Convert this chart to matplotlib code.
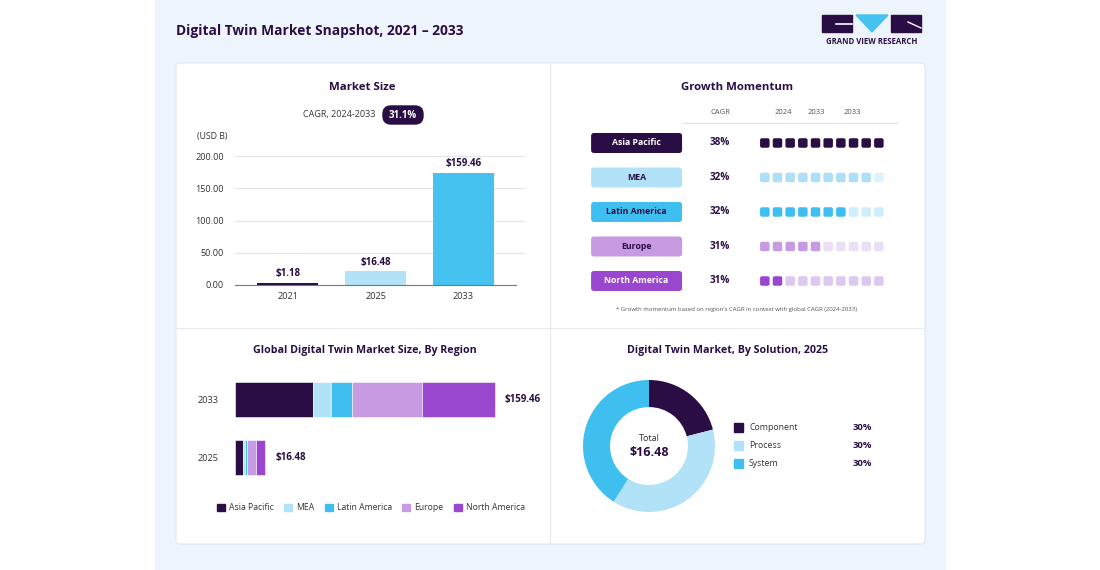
import matplotlib
matplotlib.use('Agg')
import matplotlib.pyplot as plt
from matplotlib.patches import FancyBboxPatch, Rectangle, Polygon, Patch

plt.rcParams['font.family'] = ['Open Sans', 'DejaVu Sans']

years = ['2021', '2025', '2033']
market_heights = [3.5, 21.0, 174.0]          # bar heights as drawn
market_labels = ['$1.18', '$16.48', '$159.46']
market_ticks = [0, 50, 100, 150, 200]

regions = ['Asia Pacific', 'MEA', 'Latin America', 'Europe', 'North America']
region_cagr = ['38%', '32%', '32%', '31%', '31%']
momentum_filled = [10, 9, 7, 5, 2]
momentum_years = ['2024', '2033', '2033']

stack_years = ['2025', '2033']
region_2025 = [4.6, 1.3, 1.5, 5.6, 5.6]
region_2033 = [47.8, 11.0, 12.9, 42.9, 44.8]
stack_labels = ['$16.48', '$159.46']

solutions = ['Component', 'Process', 'System']
solution_share = [21, 38, 41]
solution_labels = ['30%', '30%', '30%']

# Colours
DARK = '#2B0D45'
region_colors = ['#2B0D45', '#B2E2F7', '#3FBFEF', '#C89AE2', '#9A47D0']
faded_colors = ['#2B0D45', '#DDF2FB', '#CFEEFB', '#EADFF5', '#DDC8F1']
label_text_colors = ['white', DARK, DARK, DARK, 'white']
solution_colors = ['#2B0D45', '#B2E2F7', '#3FBFEF']
TXT = '#333333'

fig = plt.figure(figsize=(11, 5.7), dpi=100, facecolor='white')


def fig_rect(x0, y0, x1, y1):
    # pixel box (top-left origin) -> figure fraction
    return [x0 / 1100, 1 - y1 / 570, (x1 - x0) / 1100, (y1 - y0) / 570]


# Background / layout layer in pixel coordinates
bg = fig.add_axes([0, 0, 1, 1], zorder=0)
bg.set_xlim(0, 1100)
bg.set_ylim(570, 0)
bg.axis('off')
bg.add_patch(Rectangle((155, 0), 790, 570, color='#EEF4FB'))
bg.add_patch(FancyBboxPatch((176, 63), 749, 481, boxstyle='round,pad=0,rounding_size=4',
                            facecolor='white', edgecolor='#E1E7EF', lw=0.8))
bg.plot([550, 550], [63, 544], color='#E6EAF0', lw=0.8)
bg.plot([176, 925], [328, 328], color='#E6EAF0', lw=0.8)

bg.text(176, 31, 'Digital Twin Market Snapshot, 2021 \u2013 2033', fontsize=9.9,
        fontweight='bold', color=DARK, va='center', ha='left')

# logo
bg.add_patch(Rectangle((822, 15), 30, 17, color=DARK))
bg.plot([836, 852], [24, 24], color='white', lw=1.2)
bg.add_patch(Polygon([(856, 15), (888, 15), (872, 32)], closed=True, color='#45C2F0'))
bg.add_patch(Rectangle((891, 15), 30, 17, color=DARK))
bg.plot([908, 921], [22, 28], color='white', lw=1.0)
bg.text(871.5, 42, 'GRAND VIEW RESEARCH', fontsize=5.6, fontweight='bold', color=DARK,
        ha='center', va='center')

# panel titles
bg.text(362, 87, 'Market Size', fontsize=8.2, fontweight='bold', color=DARK, ha='center', va='center')
bg.text(737, 87, 'Growth Momentum', fontsize=8.2, fontweight='bold', color=DARK, ha='center', va='center')
bg.text(365, 350, 'Global Digital Twin Market Size, By Region', fontsize=7.7, fontweight='bold',
        color=DARK, ha='center', va='center')
bg.text(728, 350, 'Digital Twin Market, By Solution, 2025', fontsize=7.7, fontweight='bold',
        color=DARK, ha='center', va='center')

# CAGR badge
bg.text(375, 115, 'CAGR, 2024-2033', fontsize=6.5, color=TXT, ha='right', va='center')
bg.add_patch(FancyBboxPatch((383, 106), 40, 18, boxstyle='round,pad=0,rounding_size=8',
                            color=DARK))
bg.text(403, 115, '31.1%', fontsize=7, fontweight='bold', color='white', ha='center', va='center')
bg.text(197, 137, '(USD B)', fontsize=6.3, color=TXT, ha='left', va='center')

bg.text(737, 309, "* Growth momentum based on region's CAGR in context with global CAGR (2024-2033)",
        fontsize=4.3, color='#555555', ha='center', va='center')

# ---- Market size bars ----
ax1 = fig.add_axes(fig_rect(235, 156, 525, 285), zorder=1)
ax1.patch.set_alpha(0)
xs = range(len(years))
ax1.bar(xs, market_heights, width=0.69, color=[DARK, '#B2E2F7', '#45C2F0'], zorder=2)
for x, h, lab in zip(xs, market_heights, market_labels):
    ax1.text(x, h + 6, lab, ha='center', va='bottom', fontsize=7, fontweight='bold', color=DARK,
             clip_on=False)
ax1.set_xlim(-0.6, 2.7)
ax1.set_ylim(0, 200)
ax1.set_yticks(market_ticks)
ax1.set_yticklabels(['%.2f' % t for t in market_ticks])
ax1.set_xticks(list(xs))
ax1.set_xticklabels(years)
ax1.tick_params(length=0, labelsize=6.6, labelcolor=TXT)
ax1.tick_params(axis='y', pad=8)
ax1.tick_params(axis='x', pad=5)
ax1.grid(axis='y', color='#E3E3E3', lw=0.8, zorder=0)
for s in ['top', 'right', 'left']:
    ax1.spines[s].set_visible(False)
ax1.spines['bottom'].set_color('#777777')
ax1.spines['bottom'].set_bounds(-0.6, 2.6)

# ---- Growth momentum grid ----
ax2 = fig.add_axes(fig_rect(585, 100, 898, 300), zorder=1)
ax2.set_xlim(-14.19, 10.51)
ax2.set_ylim(4.551, -1.246)
ax2.axis('off')
asp = (5.797 / 200) / (24.70 / 313)   # y-units per px / x-units per px
sq_w = 0.75
sq_h = sq_w * asp
for r, (name, cagr, n) in enumerate(zip(regions, region_cagr, momentum_filled)):
    for i in range(10):
        col = region_colors[r] if i < n else faded_colors[r]
        if r == 1 and i < n:
            col = '#ADDFF6'
        ax2.add_patch(FancyBboxPatch((i - sq_w / 2, r - sq_h / 2), sq_w, sq_h,
                                     boxstyle='round,pad=0,rounding_size=0.15',
                                     mutation_aspect=asp, color=col, lw=0))
    ax2.add_patch(FancyBboxPatch((-13.71, r - 0.29), 7.18, 0.58,
                                 boxstyle='round,pad=0,rounding_size=0.25',
                                 mutation_aspect=asp, color=region_colors[r], lw=0))
    ax2.text(-10.12, r, name, ha='center', va='center', fontsize=6.3, fontweight='bold',
             color=label_text_colors[r])
    ax2.text(-3.53, r, cagr, ha='center', va='center', fontsize=7.2, fontweight='bold', color=DARK)
ax2.text(-3.53, -0.87, 'CAGR', ha='center', va='center', fontsize=5.5, color='#555555')
for u, lab in zip([1.44, 4.04, 6.89], momentum_years):
    ax2.text(u, -0.87, lab, ha='center', va='center', fontsize=5.5, color='#555555')
ax2.plot([-6.45, 10.51], [-0.58, -0.58], color='#E0E0E0', lw=0.8)

# ---- Stacked region bars ----
ax3 = fig.add_axes(fig_rect(235, 364, 535, 493), zorder=1)
ax3.patch.set_alpha(0)
left = [0, 0]
for k, name in enumerate(regions):
    vals = [region_2025[k], region_2033[k]]
    ax3.barh([0, 1], vals, left=left, height=0.6, color=region_colors[k], label=name,
             edgecolor='white', linewidth=0.4)
    left = [left[0] + vals[0], left[1] + vals[1]]
for y, tot, lab in zip([0, 1], left, stack_labels):
    ax3.text(tot + 6, y, lab, ha='left', va='center', fontsize=7, fontweight='bold', color=DARK)
ax3.set_xlim(0, 184)
ax3.set_ylim(-0.6, 1.6)
ax3.set_yticks([0, 1])
ax3.set_yticklabels(stack_years)
ax3.set_xticks([])
ax3.tick_params(length=0, labelsize=6.6, labelcolor=TXT, pad=12)
for s in ax3.spines.values():
    s.set_visible(False)
handles = [Patch(color=c) for c in region_colors]
fig.legend(handles, regions, loc='center', bbox_to_anchor=(371 / 1100, 1 - 508 / 570), ncol=5,
           frameon=False, fontsize=6.2, handlelength=0.9, handleheight=0.9, handletextpad=0.5,
           columnspacing=1.2, labelcolor=TXT)

# ---- Donut ----
ax4 = fig.add_axes(fig_rect(583, 380, 715, 512), zorder=1)
ax4.pie(solution_share, colors=solution_colors, startangle=90, counterclock=False, radius=1,
        wedgeprops=dict(width=0.41, edgecolor='none'))
ax4.set_xlim(-1, 1)
ax4.set_ylim(-1, 1)
ax4.text(0, 0.12, 'Total', ha='center', va='center', fontsize=6.5, color=TXT)
ax4.text(0, -0.1, '$16.48', ha='center', va='center', fontsize=9, fontweight='bold', color=DARK)

for k, (name, lab) in enumerate(zip(solutions, solution_labels)):
    y = 427 + 18 * k
    bg.add_patch(Rectangle((734, y - 4.5), 9, 9, color=solution_colors[k]))
    bg.text(749, y, name, ha='left', va='center', fontsize=6.3, color=TXT)
    bg.text(853, y, lab, ha='left', va='center', fontsize=6.8, fontweight='bold', color=DARK)

fig.savefig('out.png', dpi=100, facecolor='white')
